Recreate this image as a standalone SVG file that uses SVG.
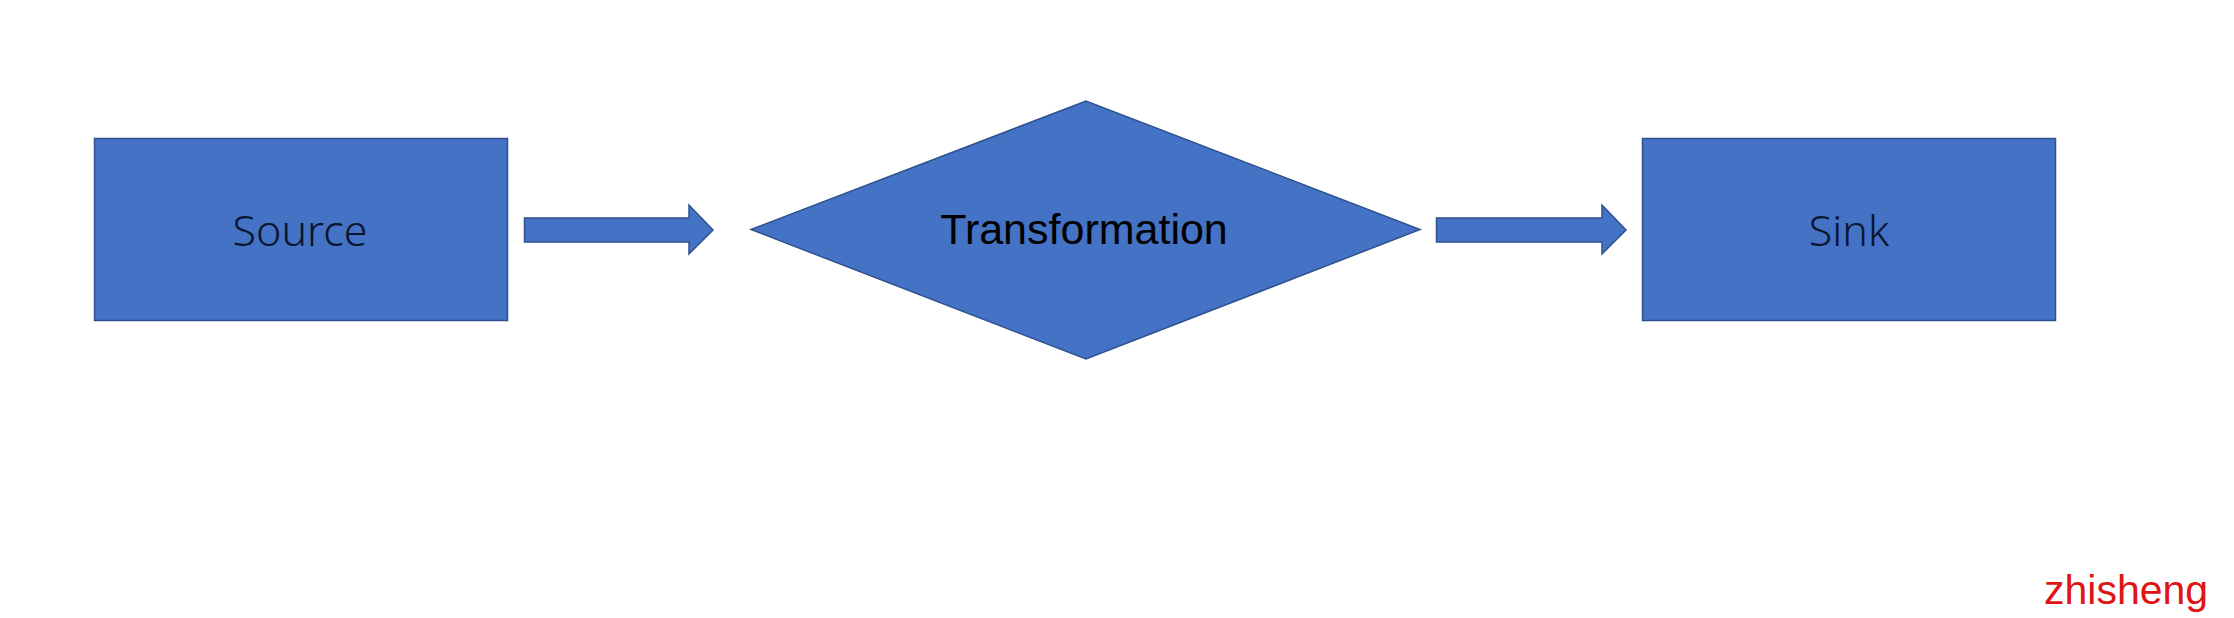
<svg xmlns="http://www.w3.org/2000/svg" width="2234" height="618" viewBox="0 0 2234 618">
<style>
.shape{fill:#4472c4;stroke:#2f528f;stroke-width:1.5}
.lbl{font-family:"Noto Sans","Liberation Sans",sans-serif;font-weight:300;font-size:43px;fill:#0a1530;text-anchor:middle}
.lbl2{font-family:"Liberation Sans",Arial,sans-serif;font-size:43px;fill:#000;text-anchor:middle}
.wm{font-family:"Liberation Sans",Arial,sans-serif;font-size:41px;fill:#e01414}
</style>
<rect width="2234" height="618" fill="#fff"/>
<g id="source">
<rect class="shape" x="94.5" y="138.5" width="413" height="182"/>
<text class="lbl" x="300" y="246">Source</text>
</g>
<g id="transformation">
<polygon class="shape" points="751,229.5 1086,101 1420,229.5 1086,359"/>
<text class="lbl2" x="1084" y="244">Transformation</text>
</g>
<g id="sink">
<rect class="shape" x="1642.5" y="138.5" width="413" height="182"/>
<text class="lbl" x="1849" y="246">Sink</text>
</g>
<g id="connectors">
<polygon class="shape" points="524.5,218 689,218 689,205 713,230 689,254 689,242 524.5,242"/>
<polygon class="shape" points="1436.5,218 1602,218 1602,205 1626,230 1602,254 1602,242 1436.5,242"/>
</g>
<text class="wm" x="2044" y="604">zhisheng</text>
</svg>
